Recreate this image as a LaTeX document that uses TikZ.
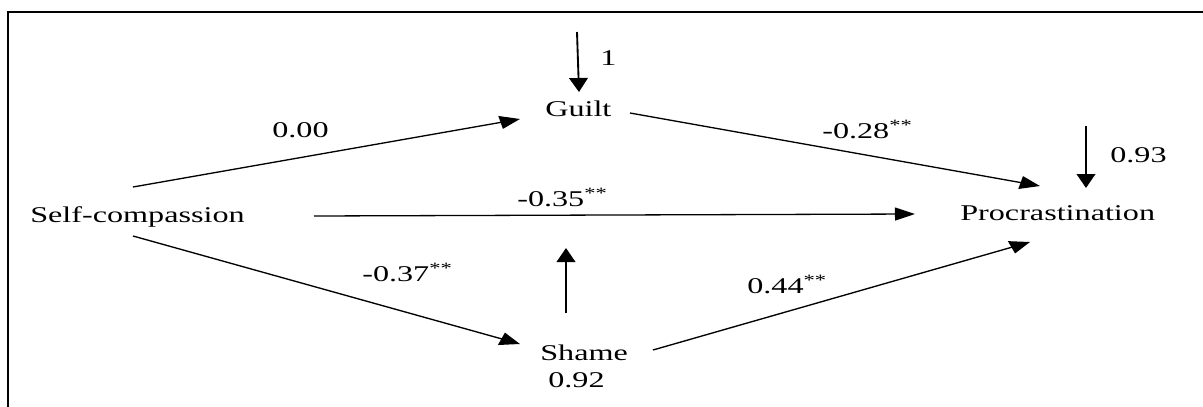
\documentclass[tikz,border=0pt]{standalone}
\usepackage{fontspec}
\setmainfont{Liberation Serif}
\usetikzlibrary{arrows.meta}
\tikzset{
  txt/.style={anchor=base west, inner sep=0pt, font=\fontsize{22.5}{27}\selectfont},
  arr/.style={line width=1.3pt, -{Triangle[length=14pt,width=13pt]}},
  frameline/.style={line width=2pt}
}
\newcommand{\sig}{\textsuperscript{**}}
\begin{document}
\begin{tikzpicture}[x=1pt,y=-1pt]
\useasboundingbox (0,0) rectangle (1203,407);
\draw[frameline] (8,407) -- (8,12) -- (1203,12);
\begin{scope}[transform canvas={xscale=1.43}, x=0.6993pt]
  % variables
  \node[txt] (sc) at (30,222) {Self-compassion};
  \node[txt] (guilt) at (545,116) {Guilt};
  \node[txt] (shame) at (540,360) {Shame};
  \node[txt] (proc) at (960,220) {Procrastination};
  % coefficients
  \node[txt] (c000) at (272,137) {0.00};
  \node[txt] (c035) at (517,206) {-0.35\sig};
  \node[txt] (c037) at (362,281) {-0.37\sig};
  \node[txt] (c044) at (747,293) {0.44\sig};
  \node[txt] (c028) at (822,138) {-0.28\sig};
  \node[txt] (e1) at (600,65) {1};
  \node[txt] (e092) at (548,387) {0.92};
  \node[txt] (e093) at (1110,162) {0.93};
  % connector ends
  \coordinate (scG) at (133,187);
  \coordinate (scP) at (314,216);
  \coordinate (scS) at (133,236);
  \coordinate (gIn) at (520,119);
  \coordinate (gOut) at (630,113);
  \coordinate (sIn) at (520,344);
  \coordinate (sOut) at (653,350);
  \coordinate (pG) at (1040,186);
  \coordinate (pSC) at (915,214);
  \coordinate (pS) at (1030,242);
  \coordinate (gErrA) at (577,32);
  \coordinate (gErrB) at (579,92);
  \coordinate (sErrA) at (566,313);
  \coordinate (sErrB) at (566,248);
  \coordinate (pErrA) at (1086,126);
  \coordinate (pErrB) at (1086,188);
  % paths
  \draw[arr] (scG) -- (gIn);
  \draw[arr] (scP) -- (pSC);
  \draw[arr] (scS) -- (sIn);
  \draw[arr] (gOut) -- (pG);
  \draw[arr] (sOut) -- (pS);
  \draw[arr] (gErrA) -- (gErrB);
  \draw[arr] (sErrA) -- (sErrB);
  \draw[arr] (pErrA) -- (pErrB);
\end{scope}
\end{tikzpicture}
\end{document}
